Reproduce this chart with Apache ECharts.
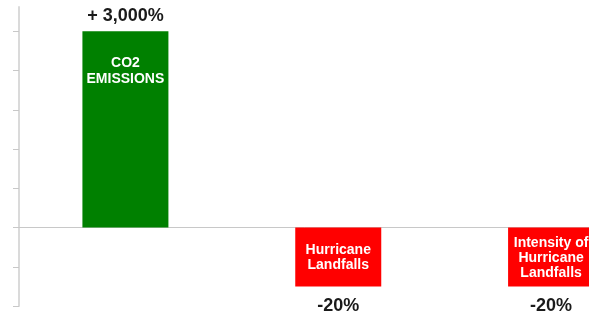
<!DOCTYPE html>
<html>
<head>
<meta charset="utf-8">
<script src="https://cdn.jsdelivr.net/npm/echarts@6/dist/echarts.min.js"></script>
<style>html,body{margin:0;padding:0;background:#fff}#c{width:589px;height:322px}</style>
</head>
<body>
<div id="c"></div>
<script>
// Data (bar heights are in the chart's relative units; bars are not drawn to scale in the original)
const categories = ['CO2\nEMISSIONS', 'Hurricane\nLandfalls', 'Intensity of\nHurricane\nLandfalls'];
const barHeights = [5, -1.5, -1.5];
const changeLabels = ['+ 3,000%', '-20%', '-20%'];
const tickValues = [-2, -1, 0, 1, 2, 3, 4, 5];

const FONT = '"Liberation Sans", Arial, sans-serif';
const posColor = '#008000';
const negColor = '#ff0000';

const chart = echarts.init(document.getElementById('c'), null, {renderer: 'canvas'});

const mainData = barHeights.map((v, i) => ({
  value: v,
  itemStyle: {color: v >= 0 ? posColor : negColor},
  label: v >= 0
    ? {position: 'insideTop', distance: 24, lineHeight: 16}
    : {position: 'inside', lineHeight: 15, offset: [0, 1]}
}));

const outerData = barHeights.map((v, i) => ({
  value: v,
  label: {position: v >= 0 ? 'top' : 'bottom', distance: v >= 0 ? 6 : 11}
}));

chart.setOption({
  animation: false,
  grid: {left: 19, right: -68.5, top: 7, bottom: 16, containLabel: false, outerBoundsMode: 'none'},
  xAxis: {
    type: 'category',
    data: categories,
    axisLine: {onZero: true, lineStyle: {color: '#c8c8c8', width: 1}},
    axisTick: {show: false},
    axisLabel: {show: false},
    splitLine: {show: false}
  },
  yAxis: {
    type: 'value',
    min: -2,
    max: 5.62,
    axisLine: {show: true, lineStyle: {color: '#dadada', width: 2}},
    axisTick: {show: true, customValues: tickValues, length: 6, lineStyle: {color: '#c8c8c8', width: 1}},
    axisLabel: {show: false},
    splitLine: {show: false}
  },
  series: [
    {
      type: 'bar',
      data: mainData,
      barWidth: 86,
      label: {
        show: true,
        formatter: p => categories[p.dataIndex],
        color: '#fff',
        fontFamily: FONT,
        fontWeight: 'bold',
        fontSize: 14,
        align: 'center'
      }
    },
    {
      type: 'bar',
      data: outerData,
      barWidth: 86,
      barGap: '-100%',
      silent: true,
      itemStyle: {color: 'rgba(0,0,0,0)'},
      label: {
        show: true,
        formatter: p => changeLabels[p.dataIndex],
        color: '#1a1a1a',
        fontFamily: FONT,
        fontWeight: 'bold',
        fontSize: 18
      },
      z: 3
    }
  ]
});
</script>
</body>
</html>
